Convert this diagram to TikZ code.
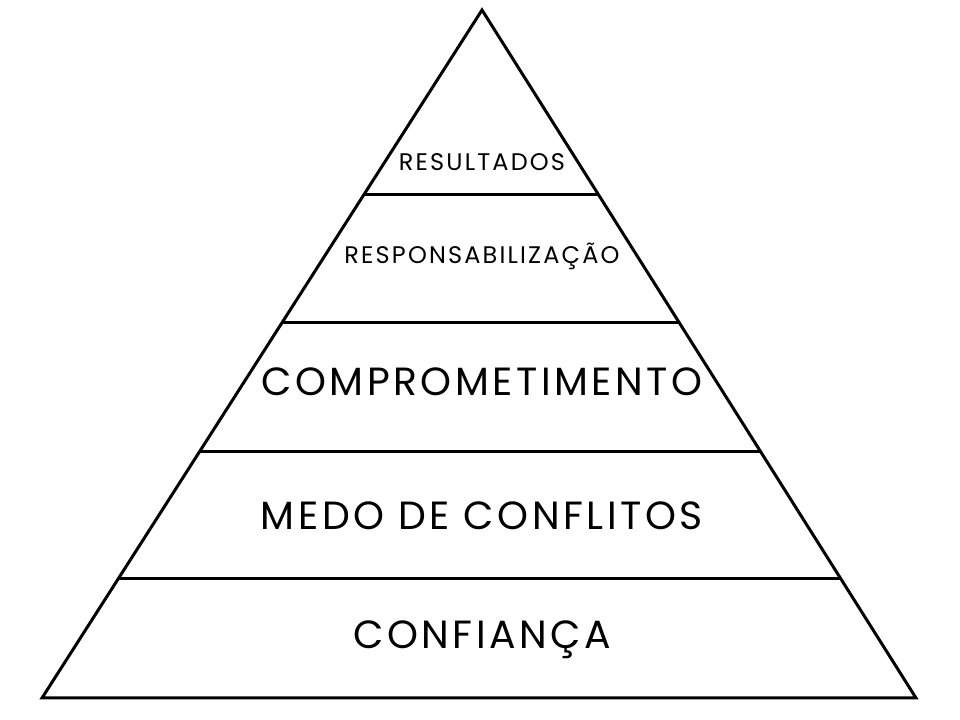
\documentclass[tikz,border=0pt]{standalone}
\usepackage{fontspec}
\setmainfont{Poppins}
\newfontfamily\rotfonte[LetterSpace=9]{Poppins}
\usetikzlibrary{calc}

\tikzset{
  nivel/.style={line width=2.25pt},
  rotulo/.style={font=\rotfonte\fontsize{29.5}{32}\selectfont},
  rotulopeq/.style={font=\rotfonte\fontsize{18}{21}\selectfont}
}

\begin{document}
\begin{tikzpicture}[x=0.75pt,y=0.75pt]
		\useasboundingbox (0,0) rectangle (960,720);
		\coordinate (topo) at (482,710);
		\coordinate (baseesq) at (42,22);
		\coordinate (basedir) at (916,22);
		\draw[nivel] (baseesq) -- (topo) -- (basedir) -- cycle;
		% divisoes
		\foreach \t [count=\i] in {0.2689,0.4549,0.6410,0.8270} {
			\coordinate (e\i) at ($(topo)!\t!(baseesq)$);
			\coordinate (d\i) at ($(topo)!\t!(basedir)$);
			\draw[nivel] (e\i) -- (d\i);
		}
		\node[rotulopeq] (resultados) at (482,558) {RESULTADOS};
		\node[rotulopeq] (responsab) at (482,464) {RESPONSABILIZAÇÃO};
		\node[rotulo] (comprom) at (482,338) {COMPROMETIMENTO};
		\node[rotulo] (medo) at (482,204) {MEDO DE CONFLITOS};
		\node[rotulo] (confianca) at (482,80) {CONFIANÇA};
	\end{tikzpicture}
\end{document}
